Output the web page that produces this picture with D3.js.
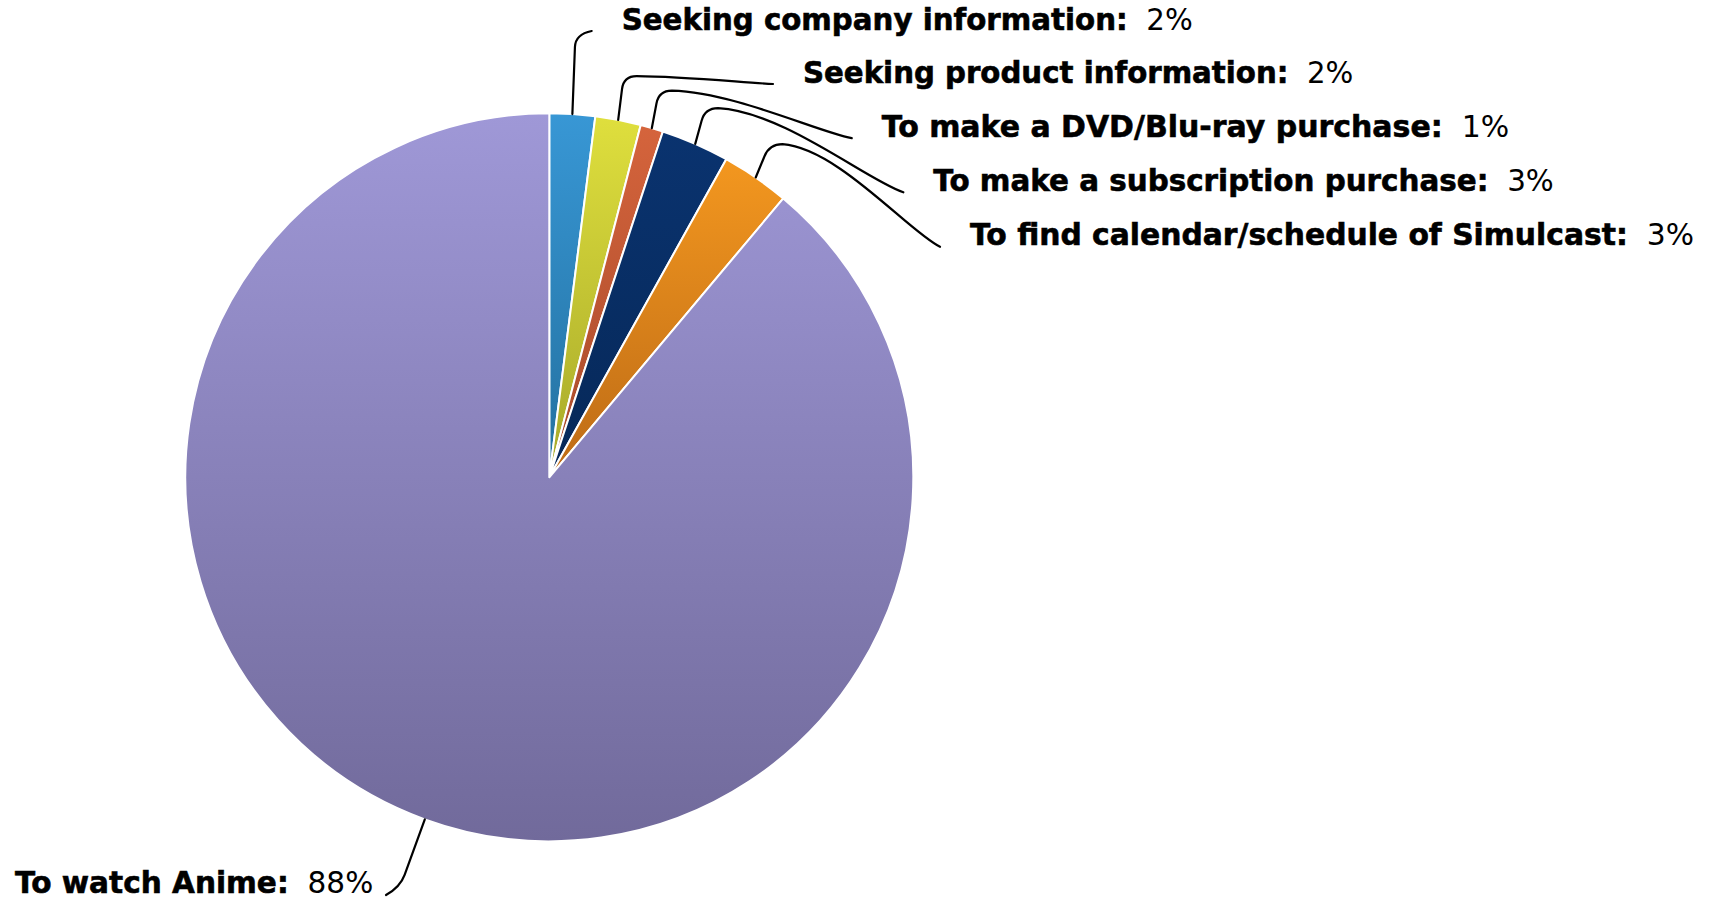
<!DOCTYPE html>
<html>
<head>
<meta charset="utf-8">
<script src="https://cdn.jsdelivr.net/npm/d3@7"></script>
<style>
  html, body { margin: 0; padding: 0; background: #fff; overflow: hidden; }
  text { font-family: "DejaVu Sans", Verdana, sans-serif; white-space: pre; fill: #000; }
</style>
</head>
<body>
<svg id="chart" width="1712" height="900"></svg>
<script>
// Reasons for visiting the site (share of respondents, %)
const categories = [
  "Seeking company information",
  "Seeking product information",
  "To make a DVD/Blu-ray purchase",
  "To make a subscription purchase",
  "To find calendar/schedule of Simulcast",
  "To watch Anime"
];
const shares = [2, 2, 1, 3, 3, 88];
const percentLabels = ["2%", "2%", "1%", "3%", "3%", "88%"];

// Slice fills: light at the top of each slice, darker at the bottom
const topColors    = ["#3897d5", "#dfdf3d", "#d5643c", "#0a336f", "#f3971f", "#9f98d7"];
const bottomColors = ["#23709f", "#a6a82a", "#a6492a", "#062858", "#bd6b16", "#716a9b"];

const W = 1712, H = 900;
const cx = 549.3, cy = 477.3, R = 364;

// Label placement: text start x, baseline, right edge of the text,
// and how far the leader runs out from the slice before bending.
const labelLayout = [
  { x: 621.7, base: 29.5,  right: 1193,   ext: 80, tilt: 0.6 },
  { x: 803,   base: 82.5,  right: 1353.5, ext: 44, tilt: 0.65 },
  { x: 881.7, base: 136.7, right: 1509.5, ext: 38, tilt: 0.65 },
  { x: 933.3, base: 190.8, right: 1554,   ext: 37, tilt: 0.65 },
  { x: 970,   base: 245.3, right: 1694.5, ext: 36, tilt: 0.65 },
  { x: 15,    base: 893,   right: 373.5,  ext: 72, tilt: 1.0, left: true }
];

const svg = d3.select("#chart");
svg.append("rect").attr("width", W).attr("height", H).attr("fill", "#fff");

const defs = svg.append("defs");
categories.forEach((c, i) => {
  const g = defs.append("linearGradient")
    .attr("id", "slice-grad-" + i)
    .attr("x1", 0).attr("y1", 0).attr("x2", 0).attr("y2", 1);
  g.append("stop").attr("offset", "0%").attr("stop-color", topColors[i]);
  g.append("stop").attr("offset", "100%").attr("stop-color", bottomColors[i]);
});

const data = categories.map((name, i) => ({ name, value: shares[i], pct: percentLabels[i], i }));

const pie = d3.pie().sort(null).value(d => d.value).startAngle(0).endAngle(2 * Math.PI);
const arcs = pie(data);
const arc = d3.arc().innerRadius(0).outerRadius(R);

const plot = svg.append("g").attr("transform", `translate(${cx},${cy})`);

plot.selectAll("path.slice")
  .data(arcs)
  .join("path")
  .attr("class", "slice")
  .attr("d", arc)
  .attr("fill", d => `url(#slice-grad-${d.data.i})`)
  .attr("stroke", "#fff")
  .attr("stroke-width", 2)
  .attr("stroke-linejoin", "round");

// Leader lines: out from the slice edge, round the corner, then sweep to the label
function leaderPath(d) {
  const L = labelLayout[d.data.i];
  const a = (d.startAngle + d.endAngle) / 2;
  const S = [cx + R * Math.sin(a), cy - R * Math.cos(a)];
  const t = L.left ? a : a * L.tilt;
  const K = [S[0] + L.ext * Math.sin(t), S[1] - L.ext * Math.cos(t)];
  const E = L.left ? [L.right + 12.5, L.base + 2] : [L.x - 30, L.base + 1.5];

  const sk = Math.hypot(K[0] - S[0], K[1] - S[1]);
  const ke = Math.hypot(E[0] - K[0], E[1] - K[1]);
  const rr = Math.min(13, sk * 0.5);
  const P1 = [K[0] - rr * (K[0] - S[0]) / sk, K[1] - rr * (K[1] - S[1]) / sk];
  const p = d3.path();
  p.moveTo(S[0], S[1]);
  p.lineTo(P1[0], P1[1]);
  if (ke < 30) {
    p.quadraticCurveTo(K[0], K[1], E[0], E[1]);
  } else {
    const dir = Math.sign(E[0] - K[0]);
    const P2 = [K[0] + dir * rr, K[1]];
    p.quadraticCurveTo(K[0], K[1], P2[0], P2[1]);
    const dx = E[0] - P2[0], dy = E[1] - P2[1];
    p.bezierCurveTo(
      P2[0] + 0.35 * dx, P2[1] + 0.04 * dy,
      E[0] - 0.2 * dx, E[1] - 0.15 * dy,
      E[0], E[1]
    );
  }
  return p.toString();
}

svg.append("g").selectAll("path.leader")
  .data(arcs)
  .join("path")
  .attr("class", "leader")
  .attr("d", leaderPath)
  .attr("fill", "none")
  .attr("stroke", "#000")
  .attr("stroke-width", 2.2)
  .attr("stroke-linecap", "round")
  .attr("stroke-linejoin", "round");

// Category labels: bold name, regular percentage
const labels = svg.append("g").selectAll("g.label")
  .data(arcs)
  .join("g")
  .attr("class", "label");

labels.each(function (d) {
  const L = labelLayout[d.data.i];
  const g = d3.select(this);
  const txt = g.append("text").attr("x", 0).attr("y", 0).style("font-size", "30px");
  txt.append("tspan")
    .style("font-weight", "bold")
    .style("stroke", "#000")
    .style("stroke-width", "0.6px")
    .text(d.data.name + ":");
  txt.append("tspan").style("font-weight", "normal").text("  " + d.data.pct);
  const w = txt.node().getComputedTextLength();
  const sx = (L.right - L.x) / w;
  g.attr("transform", `translate(${L.x},${L.base}) scale(${sx},1)`);
});
</script>
</body>
</html>
